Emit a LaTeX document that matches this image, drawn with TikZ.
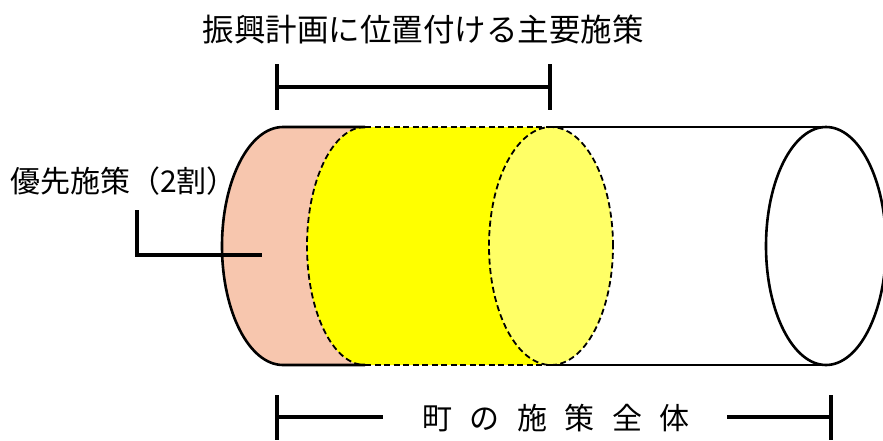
\documentclass[tikz,border=0pt]{standalone}
\usepackage{fontspec}
\newfontfamily\jpfont{Noto Sans CJK JP}
\usetikzlibrary{positioning}
\definecolor{pinkfill}{HTML}{F7C6AE}
\definecolor{yellowfill}{HTML}{FFFF00}
\definecolor{paleyellow}{HTML}{FFFF66}
\newcommand{\wgap}{\hspace{17.5pt}}

\begin{document}
\begin{tikzpicture}[x=1pt, y=-1pt,
    outline/.style={line width=2.6pt, draw=black},
    dashline/.style={line width=1.8pt, draw=black, dash pattern=on 6pt off 3.5pt},
    bracket/.style={line width=3.2pt, draw=black},
    label/.style={font=\jpfont\fontsize{30}{36}\selectfont, inner sep=0pt}
]
\useasboundingbox (0,0) rectangle (883,440);
% pink end of the cylinder
\fill[pinkfill] (283,127) arc[start angle=90, end angle=270, x radius=61pt, y radius=119pt]
    -- (365,365) -- (365,127) -- cycle;
% yellow part
\fill[yellowfill] (365,127) arc[start angle=90, end angle=270, x radius=58pt, y radius=119pt]
    -- (551,365) -- (551,127) -- cycle;
\draw[dashline, fill=paleyellow] (551,246) ellipse[x radius=62pt, y radius=119pt];
\draw[dashline] (365,127) arc[start angle=90, end angle=270, x radius=58pt, y radius=119pt];
\draw[dashline] (365,127) -- (551,127);
\draw[dashline] (365,365) -- (551,365);
% cylinder outline
\draw[outline] (365,127) -- (283,127)
    arc[start angle=90, end angle=270, x radius=61pt, y radius=119pt] -- (365,365);
\draw[outline] (551,127) -- (826,127);
\draw[outline] (551,365) -- (826,365);
\draw[outline] (826,246) ellipse[x radius=60pt, y radius=119pt];

% top bracket
\node[label, font=\jpfont\fontsize{31.5}{38}\selectfont] (main) at (423,29) {振興計画に位置付ける主要施策};
\coordinate (mainL) at (277,87);
\coordinate (mainR) at (550,87);
\draw[bracket] (mainL) -- (mainR);
\draw[bracket] (mainL) ++(0,-23) -- ++(0,46);
\draw[bracket] (mainR) ++(0,-23) -- ++(0,46);

% priority label
\node[label, anchor=west] (prio) at (10,181) {優先施策（2割）};
\coordinate (prioTop) at (137,210);
\coordinate (prioEnd) at (262,255);
\draw[bracket] (prioTop) |- (prioEnd);

% bottom bracket
\node[label] (whole) at (556,418)
    {町\wgap の\wgap 施\wgap 策\wgap 全\wgap 体};
\coordinate (wholeL) at (277,417);
\coordinate (wholeR) at (831,417);
\coordinate (wholeLe) at (383,417);
\coordinate (wholeRs) at (727,417);
\draw[bracket] (wholeL) -- (wholeLe);
\draw[bracket] (wholeRs) -- (wholeR);
\draw[bracket] (wholeL) ++(0,-22) -- ++(0,45);
\draw[bracket] (wholeR) ++(0,-22) -- ++(0,45);
\end{tikzpicture}
\end{document}
